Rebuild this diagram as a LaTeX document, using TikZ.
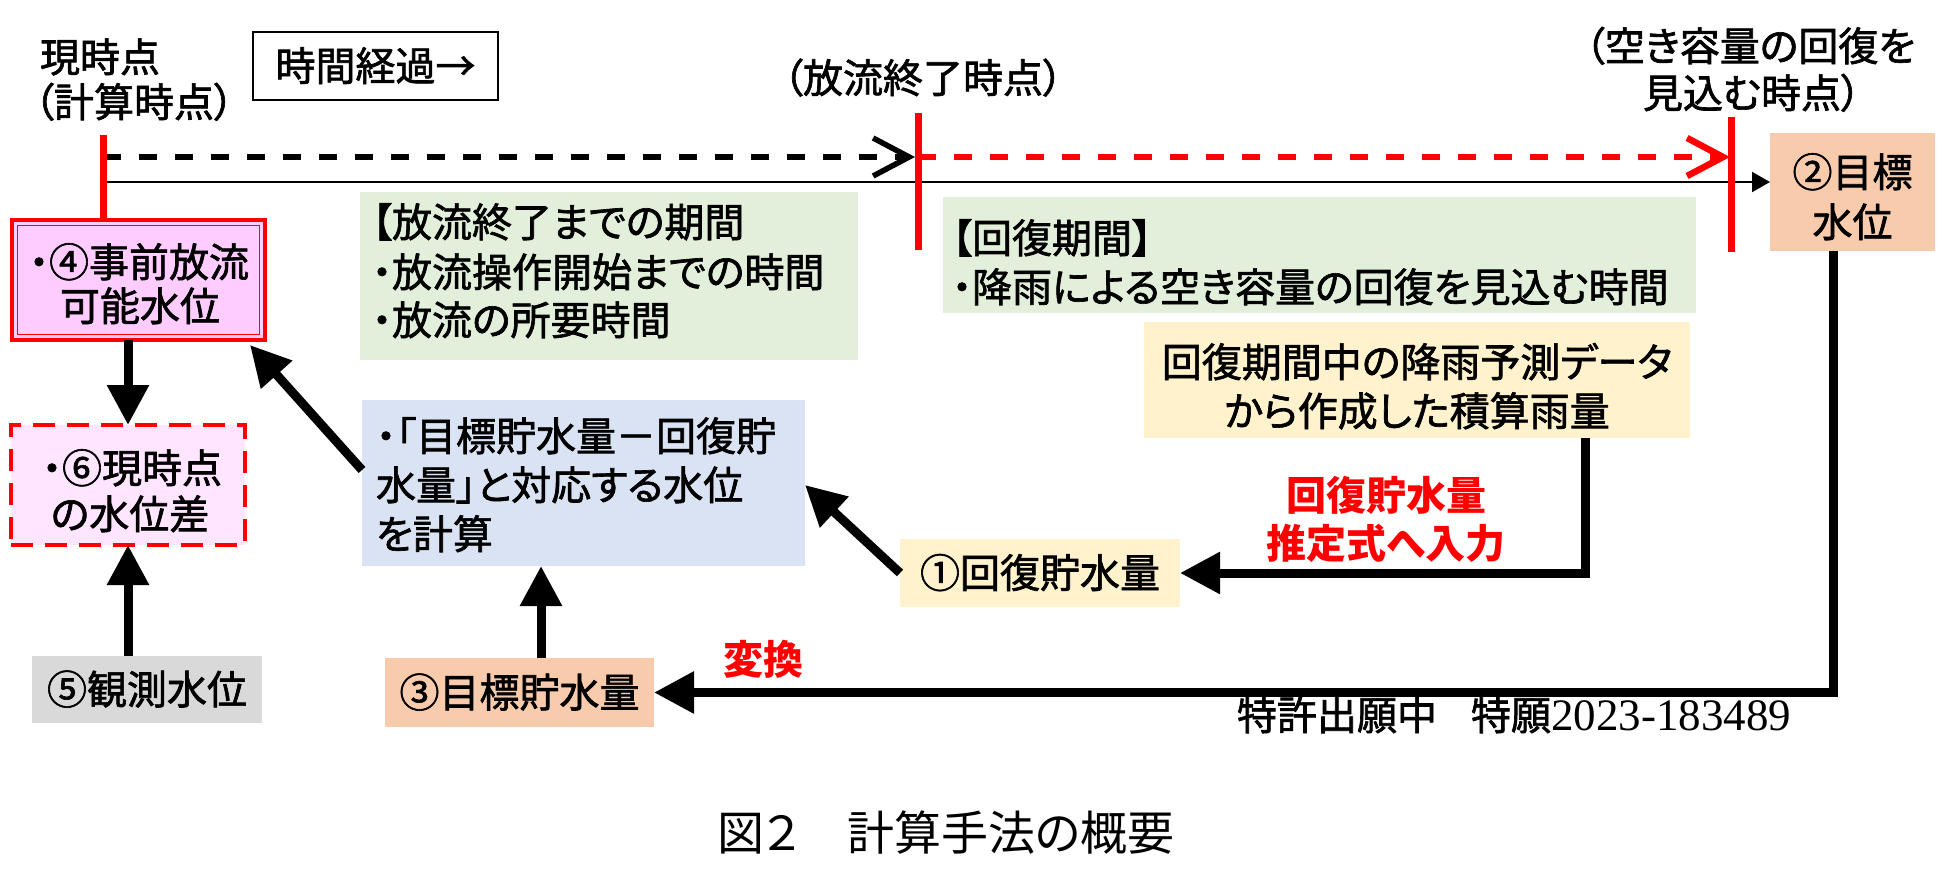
\documentclass[tikz,border=0pt]{standalone}
\usepackage{fontspec}
\setmainfont{Noto Sans CJK JP}[RawFeature=+palt, UprightFeatures={FakeBold=1.6}]
\newfontfamily\capfont{Noto Sans CJK JP}[RawFeature=+palt]
\newfontfamily\numfont{Liberation Serif}
\usetikzlibrary{arrows.meta}
\definecolor{cgreen}{HTML}{E2EFDA}
\definecolor{cyellow}{HTML}{FFF2CC}
\definecolor{cpeach}{HTML}{F8CBAD}
\definecolor{cblue}{HTML}{DAE3F3}
\definecolor{cgray}{HTML}{D9D9D9}
\definecolor{cpink}{HTML}{FFCCFF}
\definecolor{cpinkl}{HTML}{FFE5FF}
\definecolor{cred}{HTML}{FF0000}
\begin{document}
\begin{tikzpicture}[x=1pt,y=-1pt,
  every node/.style={font=\fontsize{40}{49}\selectfont, inner sep=0pt, outer sep=0pt},
  one/.style={text height=29.6pt, text depth=0pt, align=center},
  fat/.style={line width=9pt, -{Triangle[length=40pt,width=40pt]}},
  thinarr/.style={line width=2pt, -{Triangle[length=18pt,width=20pt]}},
  dashfive/.style={line width=5.5pt, dash pattern=on 18pt off 18pt, -{Straight Barb[length=36pt,width=38pt]}},
  redbar/.style={line width=7pt, cred},
  lt/.style={anchor=base west},
  ct/.style={anchor=base},
  redbold/.style={text=cred, font=\fontsize{40}{49}\selectfont\bfseries},
]
\useasboundingbox (0,0) rectangle (1950,890);
\fill[white] (0,0) rectangle (1950,890);

% boxes
\node[fill=cgreen, minimum width=498pt, minimum height=168pt] (g1) at (609,276) {};
\node[fill=cgreen, minimum width=753pt, minimum height=116pt] (g2) at (1319.5,255) {};
\node[fill=cyellow, minimum width=546pt, minimum height=116pt] (y2) at (1417,380) {};
\node[fill=cblue, minimum width=443pt, minimum height=166pt] (bl) at (583.5,483) {};
\node[fill=cyellow, one, minimum width=280pt, minimum height=68pt] (b1) at (1040,573) {①回復貯水量};
\node[fill=cpeach, minimum width=165pt, minimum height=118pt] (b2) at (1852.5,192) {};
\node[fill=cpeach, one, minimum width=269pt, minimum height=69pt] (b3) at (519.5,692.5) {③目標貯水量};
\node[fill=cpink, draw=cred, line width=4pt, minimum width=253pt, minimum height=120pt] (b4) at (138.5,280) {};
\draw[cred, line width=1.3pt] ([shift={(5.5pt,5.5pt)}]b4.south west) rectangle ([shift={(-5.5pt,-5.5pt)}]b4.north east);
\node[fill=cgray, one, minimum width=230pt, minimum height=67pt] (b5) at (147,689.5) {⑤観測水位};
\node[fill=cpinkl, draw=cred, line width=4pt, dash pattern=on 22pt off 12pt, minimum width=234pt, minimum height=120pt] (b6) at (128,485) {};
\node[draw, line width=2pt, one, minimum width=245pt, minimum height=68pt] (tb) at (375.5,66) {時間経過→};

% texts
\node[lt] (g1a) at (372,237) {【放流終了までの期間};
\node[lt] (g1b) at (372,287) {・放流操作開始までの時間};
\node[lt] (g1c) at (372,335) {・放流の所要時間};
\node[lt] (g2a) at (952,253) {【回復期間】};
\node[lt] (g2b) at (952,302) {・降雨による空き容量の回復を見込む時間};
\node[ct] (y2a) at (1417,377) {回復期間中の降雨予測データ};
\node[ct] (y2b) at (1417,426) {から作成した積算雨量};
\node[lt] (bla) at (376,451) {・「目標貯水量－回復貯};
\node[lt] (blb) at (376,500) {水量」と対応する水位};
\node[lt] (blc) at (376,549) {を計算};
\node[ct] (b2a) at (1852.5,187) {②目標};
\node[ct] (b2b) at (1852.5,237) {水位};
\node[ct] (b4a) at (139,277) {・④事前放流};
\node[ct] (b4b) at (140,321) {可能水位};
\node[ct] (b6a) at (132,483) {・⑥現時点};
\node[ct] (b6b) at (130,529) {の水位差};
\node[lt] (now1) at (40,72) {現時点};
\node[lt] (now2) at (34,117) {（計算時点）};
\node[one] (tend) at (923,78) {（放流終了時点）};
\node[ct] (trec1) at (1750,61) {（空き容量の回復を};
\node[ct] (trec2) at (1752,108) {見込む時点）};
\node[ct, redbold] (rt1) at (1386,510) {回復貯水量};
\node[ct, redbold] (rt2) at (1386,558) {推定式へ入力};
\node[one, redbold] (hk) at (763,660) {変換};
\node[lt] (pat) at (1237,730) {特許出願中\hspace{34pt}特願{\numfont\fontsize{45}{50}\selectfont 2023-183489}};
\node[ct, font=\capfont\fontsize{47}{55}\selectfont] (cap) at (946,850) {図２　計算手法の概要};

% timeline
\coordinate (pA) at (103,135);
\coordinate (pB1) at (918,113);
\coordinate (pB2) at (918,250);
\coordinate (pC1) at (1731,117);
\coordinate (pC2) at (1731,252);
\coordinate (dA) at (103,157);
\coordinate (dB) at (918,157);
\coordinate (dC) at (1730,157);
\coordinate (sA) at (103,182);
\draw[dashfive] (dA) -- ([xshift=-3pt]dB);
\draw[dashfive, cred, line width=6.5pt] (dB) -- (dC);
\draw[thinarr] (sA) -- (sA -| b2.west);
\draw[redbar] (pA) -- (pA |- b4.north);
\draw[redbar] (pB1) -- (pB2);
\draw[redbar] (pC1) -- (pC2);

% connectors
\draw[fat] (b4.south -| b6.north) -- (b6.north);
\draw[fat] (b5.north -| b6.south) -- (b6.south);
\draw[fat] ([yshift=13pt]bl.west) -- ([shift={(-15pt,-5pt)}]b4.south east);
\draw[fat] (b1.west) -- ([yshift=-2pt]bl.east);
\draw[fat] ([xshift=168pt]y2.south) |- (b1.east);
\draw[fat] ([xshift=-19.5pt]b2.south) |- (b3.east);
\draw[fat] ([xshift=21.5pt]b3.north) -- ([xshift=21.5pt]b3.north |- bl.south);
\end{tikzpicture}
\end{document}
